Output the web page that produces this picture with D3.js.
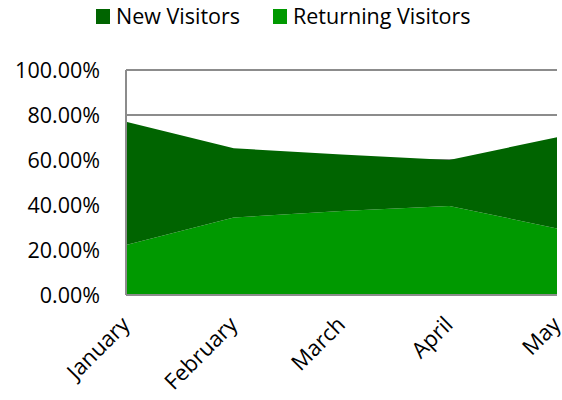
<!DOCTYPE html>
<html>
<head>
<meta charset="utf-8">
<script src="https://cdn.jsdelivr.net/npm/d3@7"></script>
<style>
  body { margin: 0; background: #fff; }
  text { font-family: "Open Sans", sans-serif; fill: #000; }
</style>
</head>
<body>
<div id="chart"></div>
<script>
const months = ["January", "February", "March", "April", "May"];
const newVisitors = [0.548, 0.308, 0.252, 0.204, 0.405];
const returningVisitors = [0.222, 0.344, 0.373, 0.396, 0.296];
const yTicks = [0, 0.2, 0.4, 0.6, 0.8, 1.0];
const seriesNames = ["New Visitors", "Returning Visitors"];
const seriesColors = ["#006400", "#009900"];

const width = 562, height = 400;
const margin = { top: 70, right: 5, bottom: 105, left: 126 };
const w = width - margin.left - margin.right;
const h = height - margin.top - margin.bottom;

const svg = d3.select("#chart").append("svg")
    .attr("width", width)
    .attr("height", height);

const g = svg.append("g")
    .attr("transform", `translate(${margin.left},${margin.top})`);

const x = d3.scalePoint().domain(months).range([0, w]);
const y = d3.scaleLinear().domain([0, 1]).range([h, 0]);

// gridlines
g.selectAll(".grid")
    .data(yTicks.filter(d => d > 0))
    .enter().append("line")
    .attr("x1", 0).attr("x2", w)
    .attr("y1", d => y(d)).attr("y2", d => y(d))
    .attr("stroke", "#8c8c8c")
    .attr("stroke-width", 2);

// stacked data: returning on the bottom, new on top
const table = months.map((m, i) => ({ month: m, returning: returningVisitors[i], newV: newVisitors[i] }));
const stack = d3.stack().keys(["returning", "newV"]);
const layers = stack(table);

const area = d3.area()
    .x(d => x(d.data.month))
    .y0(d => y(d[0]))
    .y1(d => y(d[1]));

g.selectAll(".layer")
    .data(layers)
    .enter().append("path")
    .attr("fill", (d, i) => i === 0 ? seriesColors[1] : seriesColors[0])
    .attr("d", area);

// axes lines
g.append("line")
    .attr("x1", 0).attr("x2", 0).attr("y1", 0).attr("y2", h)
    .attr("stroke", "#8c8c8c").attr("stroke-width", 2);
g.append("line")
    .attr("x1", 0).attr("x2", w).attr("y1", h).attr("y2", h)
    .attr("stroke", "#8c8c8c").attr("stroke-width", 2);

// y labels
g.selectAll(".ylab")
    .data(yTicks)
    .enter().append("text")
    .attr("x", -26)
    .attr("y", d => y(d))
    .attr("dy", "0.35em")
    .attr("text-anchor", "end")
    .style("font-size", "21.5px")
    .text(d => (d * 100).toFixed(2) + "%");

// x labels
g.selectAll(".xlab")
    .data(months)
    .enter().append("text")
    .attr("text-anchor", "end")
    .attr("transform", d => `translate(${x(d) + 5},${h + 31}) rotate(-45)`)
    .style("font-size", "22px")
    .text(d => d);

// legend
const legendItems = [
    { name: seriesNames[0], color: seriesColors[0], x: 96 },
    { name: seriesNames[1], color: seriesColors[1], x: 273 }
];
const legend = svg.append("g");
legendItems.forEach(item => {
    legend.append("rect")
        .attr("x", item.x).attr("y", 9)
        .attr("width", 14).attr("height", 15)
        .attr("fill", item.color);
    legend.append("text")
        .attr("x", item.x + 20).attr("y", 24)
        .style("font-size", "21.5px")
        .text(item.name);
});
</script>
</body>
</html>
